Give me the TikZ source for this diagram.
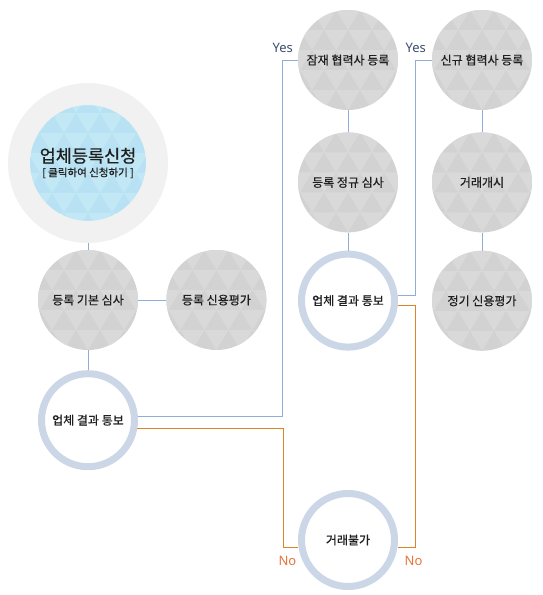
\documentclass[tikz,border=0pt]{standalone}
\usepackage{fontspec}
\setmainfont[FakeBold=0.6]{Noto Sans CJK KR}
\newfontfamily\latinfont{Noto Sans}
\usetikzlibrary{positioning}

\definecolor{stagegray}{HTML}{D2D2D2}
\definecolor{stagelight}{HTML}{D9D9D9}
\definecolor{applyblue}{HTML}{B8E2F3}
\definecolor{applylight}{HTML}{C2E7F5}
\definecolor{haloGray}{HTML}{F1F1F1}
\definecolor{ringblue}{HTML}{CBD7E7}
\definecolor{linkblue}{HTML}{8FADD8}
\definecolor{noorange}{HTML}{D98528}
\definecolor{yestext}{HTML}{3D4E6E}
\definecolor{notext}{HTML}{E8733A}

% light triangles inside a circle
\newcommand{\tritiles}[1]{%
  \foreach \r in {-4,...,4}{
    \foreach \c in {-4,...,4}{
      \fill[#1] ([xshift={\c*24pt+mod(\r,2)*12pt}, yshift={\r*20pt-10pt}]path picture bounding box.center)
        -- ++(12pt,20pt) -- ++(-24pt,0pt) -- cycle;
    }
  }
}

\tikzset{
  stage/.style={circle, minimum size=100pt, inner sep=0pt, fill=stagegray,
    path picture={\tritiles{stagelight}}, text=black!88,
    font=\fontsize{12}{14}\selectfont},
  notice/.style={circle, minimum size=93pt, inner sep=0pt, draw=ringblue,
    line width=7pt, fill=white, text=black!88, font=\fontsize{12}{14}\selectfont},
  applybox/.style={circle, minimum size=138pt, inner sep=0pt, fill=applyblue,
    path picture={\tritiles{applylight}}, draw=haloGray, line width=22pt,
    text=black!88, align=center},
  link/.style={draw=linkblue, line width=0.8pt},
  noline/.style={draw=noorange, line width=0.8pt},
  yeslabel/.style={text=yestext, font=\latinfont\fontsize{13}{15}\selectfont},
  nolabel/.style={text=notext, font=\latinfont\fontsize{13}{15}\selectfont}
}

\begin{document}
\begin{tikzpicture}[x=1pt, y=-1pt]
  \useasboundingbox (0,0) rectangle (542,595);

  % left column
  \node[applybox] (apply) at (88,163) {{\fontsize{17.5}{21}\selectfont 업체등록신청}\\[2pt]{\fontsize{10.5}{12}\selectfont [ 클릭하여 신청하기 ]}};
  \node[stage] (basic) at (88,300) {등록 기본 심사};
  \node[stage, right=28pt of basic] (credit) {등록 신용평가};
  \node[notice, below=20pt of basic] (notice1) {업체 결과 통보};

  % middle column
  \node[stage] (pot) at (348,60) {잠재 협력사 등록};
  \node[stage, below=22pt of pot] (regular) {등록 정규 심사};
  \node[notice, below=18pt of regular] (notice2) {업체 결과 통보};
  \node[notice] (reject) at (348,540) {거래불가};

  % right column
  \node[stage] (new) at (482,60) {신규 협력사 등록};
  \node[stage, below=22pt of new] (start) {거래개시};
  \node[stage, below=18pt of start] (periodic) {정기 신용평가};

  % straight links
  \draw[link] (apply) -- (basic);
  \draw[link] (basic) -- (credit);
  \draw[link] (basic) -- (notice1);
  \draw[link] (pot) -- (regular);
  \draw[link] (regular) -- (notice2);
  \draw[link] (new) -- (start);
  \draw[link] (start) -- (periodic);

  % yes / no branches
  \draw[link] (notice1.4) -| ([xshift=-15pt]pot.west) -- (pot.west);
  \node[yeslabel, above=4pt] at ([xshift=-15pt]pot.west) {Yes};
  \draw[noline] (notice1.-9) -| ([xshift=-15pt]reject.188) -- (reject.188);
  \node[nolabel, below=6pt] at ([xshift=-11pt]reject.188) {No};

  \draw[link] (notice2.6) -| ([xshift=-16pt]new.west) -- (new.west);
  \node[yeslabel, above=4pt] at ([xshift=-16pt]new.west) {Yes};
  \draw[noline] (notice2.-6) -| ([xshift=18pt]reject.-8) -- (reject.-8);
  \node[nolabel, below=6pt] at ([xshift=16pt]reject.-8) {No};
\end{tikzpicture}
\end{document}
